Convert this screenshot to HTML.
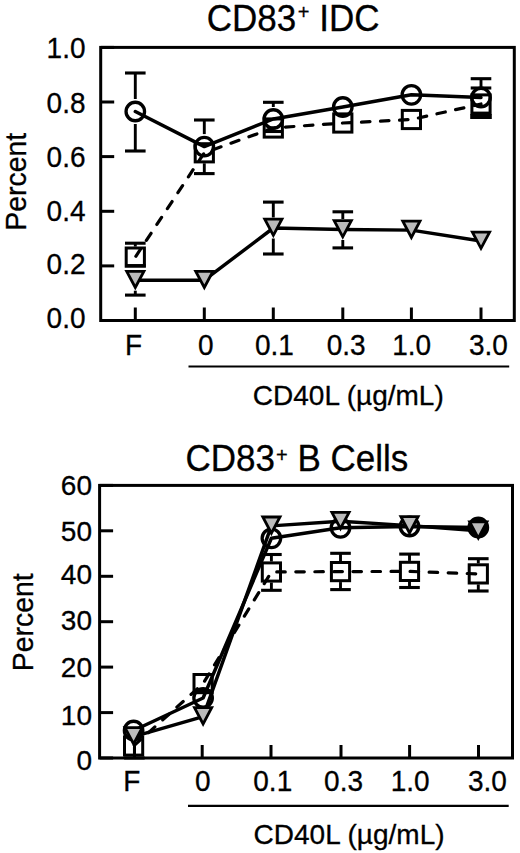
<!DOCTYPE html>
<html><head><meta charset="utf-8"><style>
html,body{margin:0;padding:0;background:#fff;width:520px;height:853px;overflow:hidden}
svg{display:block;font-family:"Liberation Sans", sans-serif} text{stroke:#000;stroke-width:0.3px}
</style></head><body>
<svg width="520" height="853" viewBox="0 0 520 853">
<rect x="100.7" y="47.4" width="413.6" height="273.1" fill="none" stroke="#000" stroke-width="3.0" stroke-linejoin="miter"/>
<line x1="100.7" y1="320.5" x2="114.2" y2="320.5" stroke="#000" stroke-width="3.0"/>
<text transform="translate(85.5,327.7) scale(1,1.04)" font-size="28" text-anchor="end">0.0</text>
<line x1="100.7" y1="265.9" x2="114.2" y2="265.9" stroke="#000" stroke-width="3.0"/>
<text transform="translate(85.5,274.4) scale(1,1.04)" font-size="28" text-anchor="end">0.2</text>
<line x1="100.7" y1="211.3" x2="114.2" y2="211.3" stroke="#000" stroke-width="3.0"/>
<text transform="translate(85.5,220.5) scale(1,1.04)" font-size="28" text-anchor="end">0.4</text>
<line x1="100.7" y1="156.6" x2="114.2" y2="156.6" stroke="#000" stroke-width="3.0"/>
<text transform="translate(85.5,166.9) scale(1,1.04)" font-size="28" text-anchor="end">0.6</text>
<line x1="100.7" y1="102.0" x2="114.2" y2="102.0" stroke="#000" stroke-width="3.0"/>
<text transform="translate(85.5,112.6) scale(1,1.04)" font-size="28" text-anchor="end">0.8</text>
<line x1="100.7" y1="47.4" x2="114.2" y2="47.4" stroke="#000" stroke-width="3.0"/>
<text transform="translate(85.5,57.6) scale(1,1.04)" font-size="28" text-anchor="end">1.0</text>
<line x1="135.3" y1="307.5" x2="135.3" y2="320.5" stroke="#000" stroke-width="3.0"/>
<line x1="204.3" y1="307.5" x2="204.3" y2="320.5" stroke="#000" stroke-width="3.0"/>
<line x1="273.3" y1="307.5" x2="273.3" y2="320.5" stroke="#000" stroke-width="3.0"/>
<line x1="342.8" y1="307.5" x2="342.8" y2="320.5" stroke="#000" stroke-width="3.0"/>
<line x1="411.4" y1="307.5" x2="411.4" y2="320.5" stroke="#000" stroke-width="3.0"/>
<line x1="481.0" y1="307.5" x2="481.0" y2="320.5" stroke="#000" stroke-width="3.0"/>
<text transform="translate(124.9,355) scale(1,1.03)" font-size="28">F</text>
<text transform="translate(197.9,355) scale(1,1.03)" font-size="28">0</text>
<text transform="translate(255,355) scale(1,1.03)" font-size="28">0.1</text>
<text transform="translate(326.7,355) scale(1,1.03)" font-size="28">0.3</text>
<text transform="translate(392.2,355) scale(1,1.03)" font-size="28">1.0</text>
<text transform="translate(469,355) scale(1,1.03)" font-size="28">3.0</text>
<line x1="188.5" y1="366.5" x2="509.2" y2="366.5" stroke="#000" stroke-width="2.2"/>
<text x="252.8" y="404.8" font-size="28">CD40L (µg/mL)</text>
<text x="0" y="0" font-size="28.4" transform="translate(26.3,230.7) rotate(-90) scale(1,1.06)">Percent</text>
<text transform="translate(206.7,31) scale(1,1.03)" font-size="35">CD83</text>
<text x="297.8" y="19.3" font-size="20">+</text>
<text transform="translate(319.3,31) scale(1,1.03)" font-size="35">IDC</text>
<line x1="125.0" y1="73.0" x2="145.6" y2="73.0" stroke="#000" stroke-width="3.1"/>
<line x1="135.3" y1="73.0" x2="135.3" y2="99.0" stroke="#000" stroke-width="2.9"/>
<line x1="125.0" y1="151.0" x2="145.6" y2="151.0" stroke="#000" stroke-width="3.1"/>
<line x1="135.3" y1="124.0" x2="135.3" y2="151.0" stroke="#000" stroke-width="2.9"/>
<line x1="194.0" y1="120.0" x2="214.6" y2="120.0" stroke="#000" stroke-width="3.1"/>
<line x1="204.3" y1="120.0" x2="204.3" y2="134.1" stroke="#000" stroke-width="2.9"/>
<line x1="194.0" y1="173.6" x2="214.6" y2="173.6" stroke="#000" stroke-width="3.1"/>
<line x1="204.3" y1="163.3" x2="204.3" y2="173.6" stroke="#000" stroke-width="2.9"/>
<line x1="263.0" y1="102.3" x2="283.6" y2="102.3" stroke="#000" stroke-width="3.1"/>
<line x1="273.3" y1="102.3" x2="273.3" y2="107.0" stroke="#000" stroke-width="2.9"/>
<line x1="470.7" y1="78.7" x2="491.3" y2="78.7" stroke="#000" stroke-width="3.1"/>
<line x1="481.0" y1="78.7" x2="481.0" y2="87.0" stroke="#000" stroke-width="2.9"/>
<line x1="470.7" y1="88.0" x2="491.3" y2="88.0" stroke="#000" stroke-width="3.1"/>
<line x1="470.2" y1="116.5" x2="491.8" y2="116.5" stroke="#000" stroke-width="5"/>
<line x1="264.3" y1="131.5" x2="282.3" y2="131.5" stroke="#000" stroke-width="3.1"/>
<line x1="125.0" y1="243.2" x2="145.6" y2="243.2" stroke="#000" stroke-width="3.1"/>
<line x1="135.3" y1="243.2" x2="135.3" y2="246.6" stroke="#000" stroke-width="2.9"/>
<line x1="125.0" y1="265.6" x2="145.6" y2="265.6" stroke="#000" stroke-width="3.1"/>
<line x1="125.0" y1="295.1" x2="145.6" y2="295.1" stroke="#000" stroke-width="3.1"/>
<line x1="135.3" y1="290.7" x2="135.3" y2="295.1" stroke="#000" stroke-width="2.9"/>
<line x1="263.0" y1="202.1" x2="283.6" y2="202.1" stroke="#000" stroke-width="3.1"/>
<line x1="273.3" y1="202.1" x2="273.3" y2="217.5" stroke="#000" stroke-width="2.9"/>
<line x1="263.0" y1="254.0" x2="283.6" y2="254.0" stroke="#000" stroke-width="3.1"/>
<line x1="273.3" y1="238.5" x2="273.3" y2="254.0" stroke="#000" stroke-width="2.9"/>
<line x1="332.5" y1="211.8" x2="353.1" y2="211.8" stroke="#000" stroke-width="3.1"/>
<line x1="342.8" y1="211.8" x2="342.8" y2="219.0" stroke="#000" stroke-width="2.9"/>
<line x1="332.5" y1="247.9" x2="353.1" y2="247.9" stroke="#000" stroke-width="3.1"/>
<line x1="342.8" y1="240.0" x2="342.8" y2="247.9" stroke="#000" stroke-width="2.9"/>
<polyline points="135.3,111.5 204.3,146.6 273.3,119.0 342.8,107.0 411.4,94.8 481.0,97.5" fill="none" stroke="#000" stroke-width="3.45" stroke-linejoin="round" stroke-linecap="round"/>
<polyline points="135.3,257.1 204.3,152.8 273.3,128.0 342.8,123.0 411.4,119.5 481.0,104.0" fill="none" stroke="#000" stroke-width="3.2" stroke-dasharray="8.5,10.55" stroke-dashoffset="-1" stroke-linejoin="round" stroke-linecap="round"/>
<polyline points="135.3,280.2 204.3,280.2 273.3,228.0 342.8,229.5 411.4,230.1 481.0,241.0" fill="none" stroke="#000" stroke-width="3.45" stroke-linejoin="round" stroke-linecap="round"/>
<circle cx="135.3" cy="111.5" r="9.25" fill="none" stroke="#000" stroke-width="3.3"/>
<circle cx="204.3" cy="146.6" r="9.25" fill="none" stroke="#000" stroke-width="3.3"/>
<circle cx="273.3" cy="119.0" r="9.25" fill="none" stroke="#000" stroke-width="3.3"/>
<circle cx="342.8" cy="107.0" r="9.25" fill="none" stroke="#000" stroke-width="3.3"/>
<circle cx="411.4" cy="94.8" r="9.25" fill="none" stroke="#000" stroke-width="3.3"/>
<circle cx="481.0" cy="97.5" r="9.25" fill="none" stroke="#000" stroke-width="3.3"/>
<rect x="126.2" y="248.0" width="18.2" height="18.2" fill="none" stroke="#000" stroke-width="3.0"/>
<rect x="195.2" y="143.7" width="18.2" height="18.2" fill="none" stroke="#000" stroke-width="3.0"/>
<rect x="264.2" y="118.9" width="18.2" height="18.2" fill="none" stroke="#000" stroke-width="3.0"/>
<rect x="333.7" y="113.9" width="18.2" height="18.2" fill="none" stroke="#000" stroke-width="3.0"/>
<rect x="402.3" y="110.4" width="18.2" height="18.2" fill="none" stroke="#000" stroke-width="3.0"/>
<rect x="471.9" y="94.9" width="18.2" height="18.2" fill="none" stroke="#000" stroke-width="3.0"/>
<path d="M126.70,271.30 L143.90,271.30 L135.30,287.50 Z" fill="#bbb" stroke="#000" stroke-width="2.8" stroke-linejoin="miter"/>
<path d="M195.72,271.30 L212.92,271.30 L204.32,287.50 Z" fill="#bbb" stroke="#000" stroke-width="2.8" stroke-linejoin="miter"/>
<path d="M264.74,219.10 L281.94,219.10 L273.34,235.30 Z" fill="#bbb" stroke="#000" stroke-width="2.8" stroke-linejoin="miter"/>
<path d="M334.16,220.60 L351.36,220.60 L342.76,236.80 Z" fill="#bbb" stroke="#000" stroke-width="2.8" stroke-linejoin="miter"/>
<path d="M402.78,221.20 L419.98,221.20 L411.38,237.40 Z" fill="#bbb" stroke="#000" stroke-width="2.8" stroke-linejoin="miter"/>
<path d="M472.40,232.10 L489.60,232.10 L481.00,248.30 Z" fill="#bbb" stroke="#000" stroke-width="2.8" stroke-linejoin="miter"/>
<rect x="99.6" y="485.4" width="412.9" height="272.6" fill="none" stroke="#000" stroke-width="3.0" stroke-linejoin="miter"/>
<line x1="99.6" y1="758.0" x2="113.1" y2="758.0" stroke="#000" stroke-width="3.0"/>
<text x="92" y="769.6" font-size="28" text-anchor="end">0</text>
<line x1="99.6" y1="712.6" x2="113.1" y2="712.6" stroke="#000" stroke-width="3.0"/>
<text x="92" y="724.8" font-size="28" text-anchor="end">10</text>
<line x1="99.6" y1="667.1" x2="113.1" y2="667.1" stroke="#000" stroke-width="3.0"/>
<text x="92" y="676.8" font-size="28" text-anchor="end">20</text>
<line x1="99.6" y1="621.7" x2="113.1" y2="621.7" stroke="#000" stroke-width="3.0"/>
<text x="92" y="629.9" font-size="28" text-anchor="end">30</text>
<line x1="99.6" y1="576.3" x2="113.1" y2="576.3" stroke="#000" stroke-width="3.0"/>
<text x="92" y="583.5" font-size="28" text-anchor="end">40</text>
<line x1="99.6" y1="530.8" x2="113.1" y2="530.8" stroke="#000" stroke-width="3.0"/>
<text x="92" y="541.3" font-size="28" text-anchor="end">50</text>
<line x1="99.6" y1="485.4" x2="113.1" y2="485.4" stroke="#000" stroke-width="3.0"/>
<text x="92" y="495.3" font-size="28" text-anchor="end">60</text>
<line x1="134.5" y1="745.0" x2="134.5" y2="758.0" stroke="#000" stroke-width="3.0"/>
<line x1="202.2" y1="745.0" x2="202.2" y2="758.0" stroke="#000" stroke-width="3.0"/>
<line x1="271.0" y1="745.0" x2="271.0" y2="758.0" stroke="#000" stroke-width="3.0"/>
<line x1="341.0" y1="745.0" x2="341.0" y2="758.0" stroke="#000" stroke-width="3.0"/>
<line x1="409.6" y1="745.0" x2="409.6" y2="758.0" stroke="#000" stroke-width="3.0"/>
<line x1="478.5" y1="745.0" x2="478.5" y2="758.0" stroke="#000" stroke-width="3.0"/>
<text transform="translate(123.3,791.3) scale(1,1.03)" font-size="28">F</text>
<text transform="translate(195,791.3) scale(1,1.03)" font-size="28">0</text>
<text transform="translate(253.3,791.3) scale(1,1.03)" font-size="28">0.1</text>
<text transform="translate(324.1,791.3) scale(1,1.03)" font-size="28">0.3</text>
<text transform="translate(390.7,791.3) scale(1,1.03)" font-size="28">1.0</text>
<text transform="translate(467.9,791.3) scale(1,1.03)" font-size="28">3.0</text>
<line x1="188" y1="805.8" x2="508.7" y2="805.8" stroke="#000" stroke-width="2.2"/>
<text x="253.6" y="843.5" font-size="28">CD40L (µg/mL)</text>
<text x="0" y="0" font-size="28.4" transform="translate(33.3,671.2) rotate(-90) scale(1,1.06)">Percent</text>
<text transform="translate(185.4,470.8) scale(1,1.03)" font-size="35">CD83</text>
<text x="276" y="461.6" font-size="20">+</text>
<text transform="translate(297.4,470.8) scale(1,1.03)" font-size="35">B Cells</text>
<line x1="124.1" y1="758.0" x2="144.7" y2="758.0" stroke="#000" stroke-width="3.1"/>
<line x1="134.4" y1="747.1" x2="134.4" y2="758.0" stroke="#000" stroke-width="2.9"/>
<line x1="193.6" y1="690.8" x2="212.6" y2="690.8" stroke="#000" stroke-width="3.1"/>
<line x1="261.1" y1="554.5" x2="281.7" y2="554.5" stroke="#000" stroke-width="3.1"/>
<line x1="271.4" y1="554.5" x2="271.4" y2="561.5" stroke="#000" stroke-width="2.9"/>
<line x1="261.1" y1="590.3" x2="281.7" y2="590.3" stroke="#000" stroke-width="3.1"/>
<line x1="271.4" y1="582.5" x2="271.4" y2="590.3" stroke="#000" stroke-width="2.9"/>
<line x1="330.2" y1="553.3" x2="350.8" y2="553.3" stroke="#000" stroke-width="3.1"/>
<line x1="340.5" y1="553.3" x2="340.5" y2="561.1" stroke="#000" stroke-width="2.9"/>
<line x1="330.2" y1="589.6" x2="350.8" y2="589.6" stroke="#000" stroke-width="3.1"/>
<line x1="340.5" y1="582.1" x2="340.5" y2="589.6" stroke="#000" stroke-width="2.9"/>
<line x1="399.2" y1="554.1" x2="419.8" y2="554.1" stroke="#000" stroke-width="3.1"/>
<line x1="409.5" y1="554.1" x2="409.5" y2="560.9" stroke="#000" stroke-width="2.9"/>
<line x1="399.2" y1="587.5" x2="419.8" y2="587.5" stroke="#000" stroke-width="3.1"/>
<line x1="409.5" y1="581.9" x2="409.5" y2="587.5" stroke="#000" stroke-width="2.9"/>
<line x1="468.0" y1="558.7" x2="488.6" y2="558.7" stroke="#000" stroke-width="3.1"/>
<line x1="478.3" y1="558.7" x2="478.3" y2="563.4" stroke="#000" stroke-width="2.9"/>
<line x1="468.0" y1="591.0" x2="488.6" y2="591.0" stroke="#000" stroke-width="3.1"/>
<line x1="478.3" y1="584.4" x2="478.3" y2="591.0" stroke="#000" stroke-width="2.9"/>
<polyline points="133.6,730.5 203.1,698.0 271.4,538.3 340.5,527.8 409.5,526.5 478.3,527.5" fill="none" stroke="#000" stroke-width="3.45" stroke-linejoin="round" stroke-linecap="round"/>
<polyline points="133.6,746.0 203.1,683.6 271.4,572.0 340.5,571.6 409.5,571.4 478.3,573.9" fill="none" stroke="#000" stroke-width="3.2" stroke-dasharray="8.5,10.55" stroke-dashoffset="-1" stroke-linejoin="round" stroke-linecap="round"/>
<polyline points="133.6,736.6 203.1,716.6 271.4,525.9 340.5,521.2 409.5,525.6 478.3,530.8" fill="none" stroke="#000" stroke-width="3.45" stroke-linejoin="round" stroke-linecap="round"/>
<circle cx="133.6" cy="730.5" r="9.25" fill="none" stroke="#000" stroke-width="3.3"/>
<circle cx="203.1" cy="698.0" r="9.25" fill="none" stroke="#000" stroke-width="3.3"/>
<circle cx="271.4" cy="538.3" r="9.25" fill="none" stroke="#000" stroke-width="3.3"/>
<circle cx="340.5" cy="527.8" r="9.25" fill="none" stroke="#000" stroke-width="3.3"/>
<circle cx="409.5" cy="526.5" r="9.25" fill="none" stroke="#000" stroke-width="3.3"/>
<circle cx="478.3" cy="527.5" r="9.25" fill="#000" stroke="#000" stroke-width="3.3"/>
<rect x="124.5" y="736.9" width="18.2" height="18.2" fill="none" stroke="#000" stroke-width="3.0"/>
<rect x="194.0" y="674.5" width="18.2" height="18.2" fill="none" stroke="#000" stroke-width="3.0"/>
<rect x="262.3" y="562.9" width="18.2" height="18.2" fill="none" stroke="#000" stroke-width="3.0"/>
<rect x="331.4" y="562.5" width="18.2" height="18.2" fill="none" stroke="#000" stroke-width="3.0"/>
<rect x="400.4" y="562.3" width="18.2" height="18.2" fill="none" stroke="#000" stroke-width="3.0"/>
<rect x="469.2" y="564.8" width="18.2" height="18.2" fill="none" stroke="#000" stroke-width="3.0"/>
<path d="M125.00,727.70 L142.20,727.70 L133.60,743.90 Z" fill="#bbb" stroke="#000" stroke-width="2.8" stroke-linejoin="miter"/>
<path d="M194.50,707.70 L211.70,707.70 L203.10,723.90 Z" fill="#bbb" stroke="#000" stroke-width="2.8" stroke-linejoin="miter"/>
<path d="M262.80,517.00 L280.00,517.00 L271.40,533.20 Z" fill="#bbb" stroke="#000" stroke-width="2.8" stroke-linejoin="miter"/>
<path d="M331.90,512.30 L349.10,512.30 L340.50,528.50 Z" fill="#bbb" stroke="#000" stroke-width="2.8" stroke-linejoin="miter"/>
<path d="M400.90,516.70 L418.10,516.70 L409.50,532.90 Z" fill="#bbb" stroke="#000" stroke-width="2.8" stroke-linejoin="miter"/>
<path d="M469.70,521.90 L486.90,521.90 L478.30,538.10 Z" fill="#bbb" stroke="#000" stroke-width="2.8" stroke-linejoin="miter"/>
</svg>
</body></html>
